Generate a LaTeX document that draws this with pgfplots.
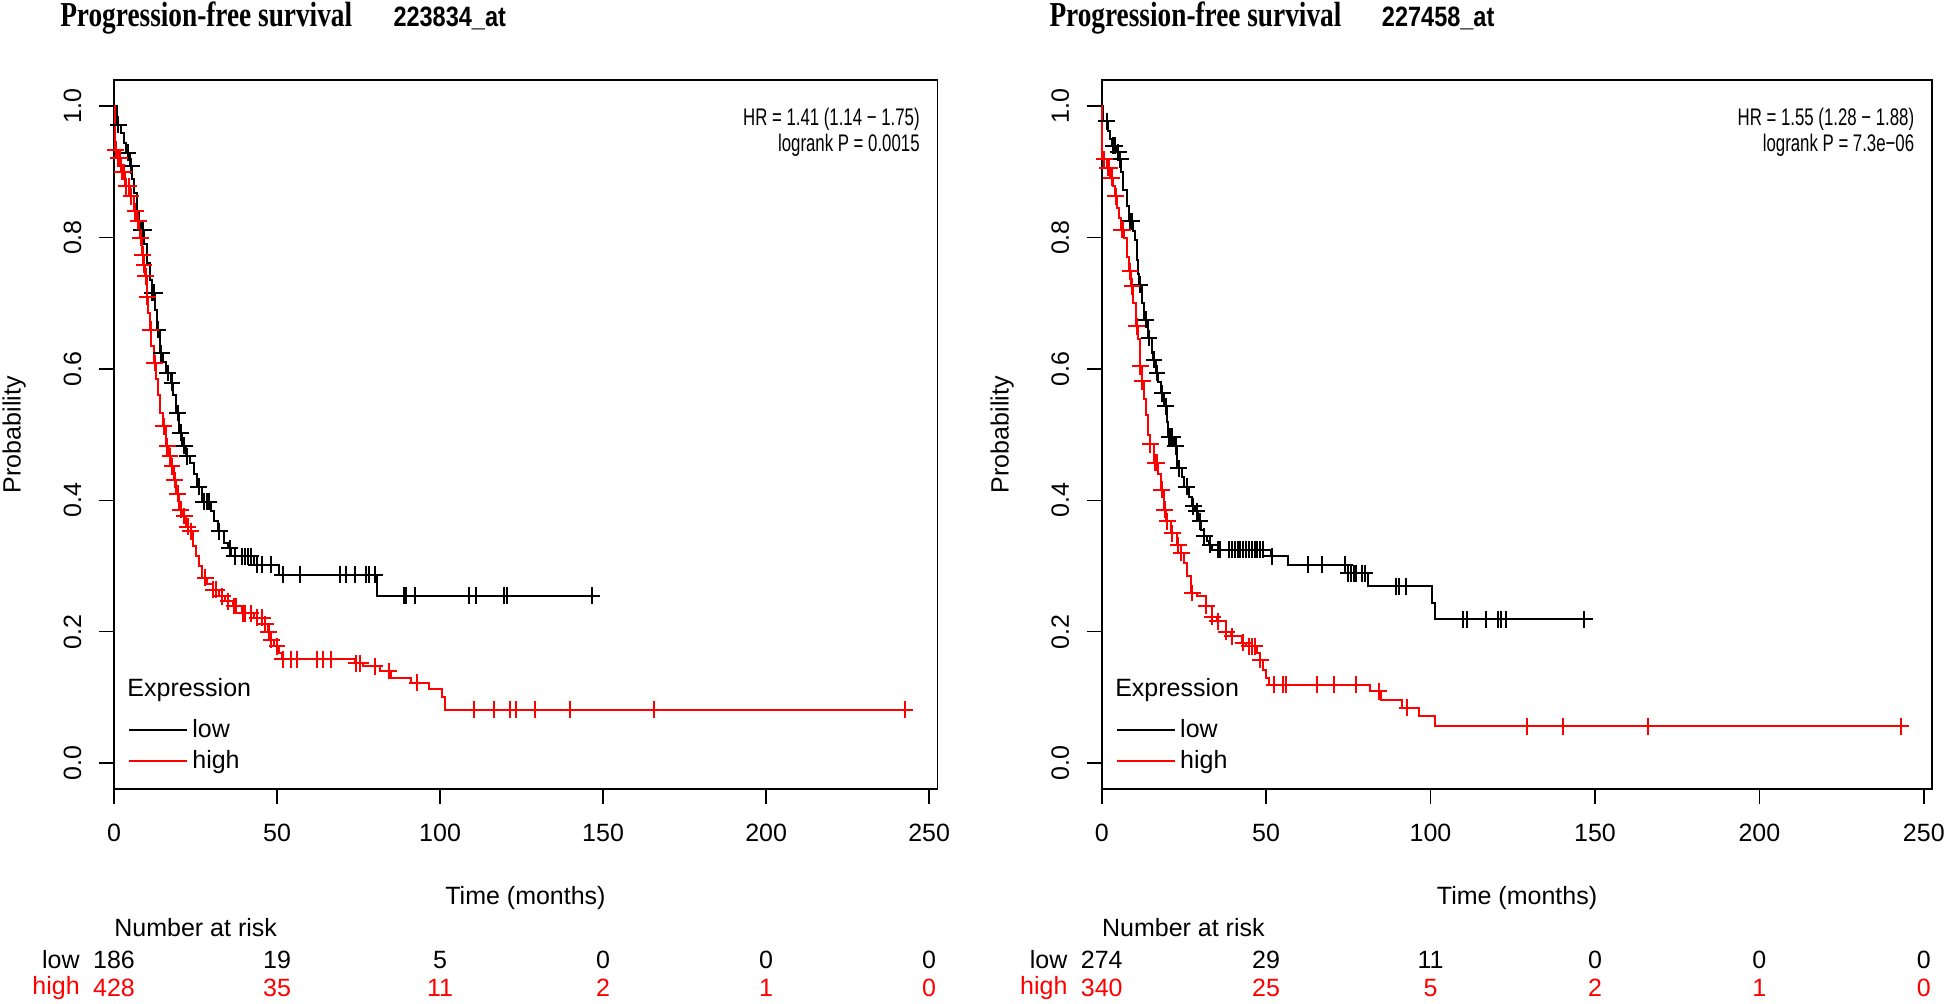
\documentclass[border=0pt]{standalone}
\usepackage{fontspec}
\setmainfont{Liberation Sans}
\newfontfamily\titlefont{Liberation Serif}[FakeStretch=0.78]
\newfontfamily\atfont{Liberation Sans}[FakeStretch=0.84]
\newfontfamily\hrfont{Liberation Sans}[FakeStretch=0.7]
\usepackage{pgfplots}
\pgfplotsset{compat=1.18}
\newcommand{\fs}{\fontsize{12.5}{15}\selectfont}
\newcommand{\ft}{\titlefont\bfseries\fontsize{17.5}{20}\selectfont}
\newcommand{\fa}{\atfont\bfseries\fontsize{14}{17}\selectfont}
\newcommand{\fh}{\hrfont\fontsize{12}{14}\selectfont}
\definecolor{kmred}{RGB}{255,0,0}
\tikzset{rl/.style={font=\fs, inner sep=0pt}, rh/.style={font=\fs, inner sep=0pt, text=kmred}}
\pgfplotsset{km/.style={
  scale only axis, height=354.65pt,
  xmin=0, xmax=252.5, ymin=-0.04, ymax=1.04,
  axis line style={line width=0.8pt},
  tick align=outside, xtick pos=bottom, ytick pos=left,
  major tick length=7.5pt,
  every tick/.style={black, line width=0.8pt},
  xtick={0,50,100,150,200,250},
  ytick={0,0.2,0.4,0.6,0.8,1},
  /pgf/number format/assume math mode=true,
  yticklabel={\pgfmathprintnumber[fixed,fixed zerofill,precision=1]{\tick}},
  xticklabel style={font=\fs},
  yticklabel style={font=\fs, rotate=90, anchor=south},
  xticklabel shift=6.3pt, yticklabel shift=5.3pt,
  clip=false,
  legend style={draw=none, fill=none, font=\fs, at={(axis description cs:0.017,0.1048)}, anchor=north west, inner sep=0pt, row sep=1pt, nodes={inner sep=2pt}},
  legend cell align=left,
  legend image code/.code={\draw[#1, line width=1pt] (0pt,0pt) -- (24pt,0pt); \path (0pt,0pt) -- (29pt,0pt);},
  curve/.style={const plot, line width=1pt},
  cens/.style={only marks, mark=+, mark size=4.2pt, mark options={line width=1pt}, forget plot},
}}
\begin{document}
\begin{tikzpicture}
\path[use as bounding box] (0,0) rectangle (973pt,502pt);
% ---------------- left panel ----------------
\begin{axis}[km, width=411.65pt, at={(57pt,107.35pt)}, anchor=south west]
\addplot[curve, black] coordinates {(0,1) (0.8,0.972) (2.0,0.959) (3.0,0.944) (3.8,0.929) (5.0,0.909) (5.6,0.89) (6.2,0.868) (7.0,0.838) (7.8,0.812) (9.2,0.79) (10.2,0.761) (11.0,0.735) (11.6,0.716) (12.6,0.69) (13.2,0.66) (14.0,0.624) (15.0,0.61) (16.0,0.594) (17.4,0.579) (18.2,0.56) (19.0,0.533) (20.0,0.503) (21.0,0.483) (22.0,0.467) (23.2,0.457) (24.6,0.44) (25.6,0.421) (27.0,0.398) (29.6,0.383) (30.6,0.368) (32.0,0.353) (33.6,0.335) (35.0,0.327) (36.0,0.315) (43.0,0.302) (50.5,0.287) (80.8,0.255) (147,0.255)};
\addlegendentry{low}
\addplot[curve, kmred] coordinates {(0,1) (0.3,0.934) (1.0,0.921) (2.0,0.90) (3.5,0.878) (4.8,0.863) (6.0,0.84) (7.0,0.825) (8.0,0.80) (8.6,0.774) (9.0,0.759) (9.5,0.741) (10.0,0.71) (10.5,0.685) (11.0,0.66) (11.5,0.635) (12.2,0.609) (13.0,0.584) (13.6,0.56) (14.2,0.533) (15.0,0.513) (16.0,0.482) (17.0,0.467) (17.6,0.452) (18.3,0.431) (19.0,0.41) (20.0,0.386) (21.0,0.376) (22.2,0.36) (22.8,0.353) (24.2,0.33) (25.2,0.315) (26.0,0.30) (27.0,0.282) (28.6,0.272) (30.4,0.264) (32.2,0.254) (34.0,0.246) (36.6,0.239) (39.4,0.228) (43.0,0.221) (46.2,0.211) (47.2,0.20) (48.0,0.188) (49.0,0.178) (50.6,0.168) (51.6,0.158) (74.0,0.152) (76.5,0.147) (81.6,0.14) (85.0,0.13) (91.2,0.122) (96.6,0.112) (100.6,0.10) (101.6,0.081) (243,0.081)};
\addlegendentry{high}
\addplot[cens, black] coordinates {(1.3,0.972) (4.3,0.929) (5.3,0.909) (8.4,0.812) (9.0,0.812) (11.8,0.716) (12.3,0.716) (13.5,0.66) (14.5,0.624) (16.5,0.594) (17.8,0.579) (19.5,0.533) (20.5,0.503) (21.5,0.483) (22.5,0.467) (26.0,0.421) (27.5,0.398) (28.4,0.398) (29.0,0.398) (32.3,0.353) (35.5,0.327) (37,0.315) (39.4,0.315) (40.2,0.315) (41.1,0.315) (42,0.315) (43.8,0.302) (45.5,0.302) (48.2,0.302) (51.7,0.287) (57,0.287) (69.3,0.287) (71.1,0.287) (73.8,0.287) (77.3,0.287) (78.2,0.287) (79.9,0.287) (88.8,0.255) (89.6,0.255) (92.3,0.255) (109,0.255) (111,0.255) (119.6,0.255) (120.5,0.255) (146.6,0.255)};
\addplot[cens, kmred] coordinates {(0.5,0.934) (1.2,0.921) (1.8,0.921) (2.5,0.90) (3.0,0.90) (3.8,0.878) (4.5,0.878) (5.2,0.863) (6.5,0.84) (7.5,0.825) (8.2,0.80) (8.8,0.774) (9.2,0.759) (9.7,0.741) (10.2,0.71) (11.2,0.66) (12.5,0.609) (15.3,0.513) (16.4,0.482) (17.2,0.467) (17.8,0.452) (18.6,0.431) (19.5,0.41) (20.5,0.386) (21.5,0.376) (22.6,0.36) (23.5,0.353) (28,0.282) (30.5,0.264) (31.4,0.264) (33.2,0.254) (35,0.246) (36.8,0.239) (37.5,0.239) (39.6,0.228) (40.2,0.228) (42,0.228) (44,0.221) (45.5,0.221) (46.4,0.211) (47.4,0.20) (48.2,0.188) (50,0.178) (51.7,0.158) (54.3,0.158) (56,0.158) (62.3,0.158) (64,0.158) (66.7,0.158) (74.2,0.152) (75.5,0.152) (80,0.147) (84.3,0.14) (93,0.122) (110.5,0.081) (116.5,0.081) (121.4,0.081) (123.2,0.081) (129,0.081) (140,0.081) (165.5,0.081) (242.6,0.081)};
\node[anchor=base west, font=\ft, inner sep=0pt] at (axis cs:-16.6,1.1214) {Progression-free survival};
\node[anchor=base west, font=\fa, inner sep=0pt] at (axis cs:85.6,1.1214) {223834\_at};
\node[anchor=east, font=\fh, inner sep=0pt] at (axis cs:247.2,0.9797) {HR = 1.41 (1.14 − 1.75)};
\node[anchor=east, font=\fh, inner sep=0pt] at (axis cs:247.2,0.940) {logrank P = 0.0015};
\node[anchor=west, font=\fs, inner sep=0pt] at (axis cs:4.0,0.1117) {Expression};
\node[rotate=90, font=\fs] at (axis cs:-30.6,0.5) {Probability};
\node[font=\fs] at (axis cs:126.2,-0.205) {Time (months)};
\node[anchor=west, font=\fs, inner sep=0pt] at (axis cs:0,-0.2508) {Number at risk};
\node[anchor=east, rl] at (axis cs:-10.4,-0.2996) {low};
\node[anchor=east, rh] at (axis cs:-10.4,-0.342) {high};
\node[rl] at (axis cs:0,-0.2996) {186};
\node[rl] at (axis cs:50,-0.2996) {19};
\node[rl] at (axis cs:100,-0.2996) {5};
\node[rl] at (axis cs:150,-0.2996) {0};
\node[rl] at (axis cs:200,-0.2996) {0};
\node[rl] at (axis cs:250,-0.2996) {0};
\node[rh] at (axis cs:0,-0.342) {428};
\node[rh] at (axis cs:50,-0.342) {35};
\node[rh] at (axis cs:100,-0.342) {11};
\node[rh] at (axis cs:150,-0.342) {2};
\node[rh] at (axis cs:200,-0.342) {1};
\node[rh] at (axis cs:250,-0.342) {0};
\end{axis}
% ---------------- right panel ----------------
\begin{axis}[km, width=415.15pt, at={(550.85pt,107.35pt)}, anchor=south west]
\addplot[curve, black] coordinates {(0,1) (0.5,0.977) (1.8,0.963) (2.5,0.95) (3.2,0.94) (4.5,0.93) (5.4,0.919) (6.0,0.90) (6.6,0.873) (7.6,0.848) (8.3,0.825) (9.4,0.81) (10.0,0.797) (10.6,0.766) (11.0,0.745) (11.4,0.728) (12.2,0.70) (13.0,0.675) (14.0,0.647) (15.2,0.625) (15.7,0.614) (16.5,0.594) (17.2,0.58) (18.0,0.563) (19.0,0.543) (19.8,0.52) (20.3,0.497) (22.0,0.482) (23.0,0.449) (24.4,0.435) (25.0,0.421) (26.5,0.405) (27.5,0.391) (28.4,0.383) (29.2,0.368) (30.1,0.355) (31.0,0.345) (32.0,0.338) (32.7,0.332) (33.5,0.325) (51.6,0.315) (56.8,0.302) (74.8,0.289) (80.9,0.269) (100.5,0.244) (101.5,0.219) (147,0.219)};
\addlegendentry{low}
\addplot[curve, kmred] coordinates {(0,1) (0.2,0.919) (1.5,0.906) (2.5,0.891) (3.5,0.878) (4.0,0.863) (4.6,0.845) (5.2,0.83) (6.0,0.812) (6.8,0.80) (7.8,0.77) (8.4,0.749) (9.0,0.726) (9.6,0.70) (10.4,0.665) (11.0,0.645) (11.6,0.604) (12.1,0.581) (13.0,0.555) (13.6,0.53) (14.0,0.50) (14.6,0.485) (16.0,0.457) (17.2,0.44) (18.0,0.416) (18.8,0.386) (19.6,0.368) (21.2,0.35) (23.0,0.332) (24.0,0.32) (25.0,0.305) (26.0,0.285) (27.2,0.259) (29.0,0.254) (31.6,0.239) (33.4,0.223) (35.1,0.216) (37.7,0.2) (39.4,0.193) (42.8,0.183) (44.0,0.178) (47.2,0.168) (48.0,0.157) (49.0,0.142) (50.0,0.13) (50.8,0.119) (81.7,0.109) (85.0,0.096) (91.2,0.084) (96.4,0.071) (101.5,0.056) (243,0.056)};
\addlegendentry{high}
\addplot[cens, black] coordinates {(1.5,0.977) (3.5,0.94) (4.0,0.94) (5.0,0.93) (5.6,0.919) (8.5,0.825) (8.9,0.825) (9.2,0.825) (11.6,0.728) (13.4,0.675) (14.4,0.647) (15.9,0.614) (16.8,0.594) (18.4,0.563) (19.4,0.543) (20.5,0.497) (21.0,0.497) (21.5,0.497) (22.5,0.482) (23.4,0.449) (25.9,0.421) (27.9,0.391) (28.9,0.383) (29.9,0.368) (31.2,0.345) (32.9,0.332) (35.3,0.325) (36.1,0.325) (38.7,0.325) (39.6,0.325) (40.4,0.325) (41.3,0.325) (42.2,0.325) (43,0.325) (43.9,0.325) (44.7,0.325) (45.6,0.325) (46.5,0.325) (47.3,0.325) (48.2,0.325) (49,0.325) (51.8,0.315) (62.8,0.302) (67.1,0.302) (74,0.302) (75,0.289) (75.7,0.289) (76.6,0.289) (77.4,0.289) (79.1,0.289) (80,0.289) (89.5,0.269) (90.3,0.269) (92.4,0.269) (110,0.219) (111,0.219) (117,0.219) (120.5,0.219) (121.3,0.219) (123,0.219) (146.8,0.219)};
\addplot[cens, kmred] coordinates {(0.8,0.919) (1.8,0.906) (2.3,0.906) (3.0,0.891) (4.2,0.863) (6.1,0.812) (6.5,0.812) (8.6,0.749) (9.2,0.726) (10.6,0.665) (11.7,0.604) (12.3,0.581) (14.8,0.485) (16.3,0.457) (16.8,0.457) (18.3,0.416) (19.1,0.386) (19.9,0.368) (21.5,0.35) (23.3,0.332) (24.2,0.32) (27.5,0.259) (31.8,0.239) (33.6,0.223) (35.3,0.216) (37.9,0.2) (39.6,0.193) (43,0.183) (44.8,0.178) (45.6,0.178) (46.5,0.178) (48.2,0.157) (52.5,0.119) (55,0.119) (55.9,0.119) (65.4,0.119) (70.5,0.119) (77.4,0.119) (84.3,0.109) (92.9,0.084) (129.4,0.056) (140.2,0.056) (166,0.056) (243,0.056)};
\node[anchor=base west, font=\ft, inner sep=0pt] at (axis cs:-16.0,1.1214) {Progression-free survival};
\node[anchor=base west, font=\fa, inner sep=0pt] at (axis cs:85.1,1.1214) {227458\_at};
\node[anchor=east, font=\fh, inner sep=0pt] at (axis cs:247.2,0.9797) {HR = 1.55 (1.28 − 1.88)};
\node[anchor=east, font=\fh, inner sep=0pt] at (axis cs:247.2,0.940) {logrank P = 7.3e−06};
\node[anchor=west, font=\fs, inner sep=0pt] at (axis cs:4.0,0.1117) {Expression};
\node[rotate=90, font=\fs] at (axis cs:-30.3,0.5) {Probability};
\node[font=\fs] at (axis cs:126.3,-0.205) {Time (months)};
\node[anchor=west, font=\fs, inner sep=0pt] at (axis cs:0,-0.2508) {Number at risk};
\node[anchor=east, rl] at (axis cs:-10.3,-0.2996) {low};
\node[anchor=east, rh] at (axis cs:-10.3,-0.342) {high};
\node[rl] at (axis cs:0,-0.2996) {274};
\node[rl] at (axis cs:50,-0.2996) {29};
\node[rl] at (axis cs:100,-0.2996) {11};
\node[rl] at (axis cs:150,-0.2996) {0};
\node[rl] at (axis cs:200,-0.2996) {0};
\node[rl] at (axis cs:250,-0.2996) {0};
\node[rh] at (axis cs:0,-0.342) {340};
\node[rh] at (axis cs:50,-0.342) {25};
\node[rh] at (axis cs:100,-0.342) {5};
\node[rh] at (axis cs:150,-0.342) {2};
\node[rh] at (axis cs:200,-0.342) {1};
\node[rh] at (axis cs:250,-0.342) {0};
\end{axis}
\end{tikzpicture}
\end{document}
